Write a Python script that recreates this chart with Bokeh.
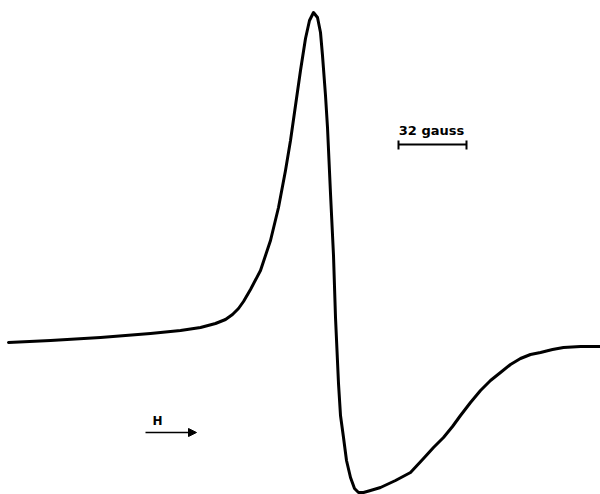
from bokeh.plotting import figure
from bokeh.models import Range1d, Arrow, NormalHead, Label
from bokeh.embed import file_html
from bokeh.resources import INLINE

# EPR derivative trace (horizontal position, vertical position from top)
field = [8, 50, 100, 150, 180, 200, 215, 225, 232, 238, 243, 250, 260, 270, 278, 285, 290,
         295, 300, 305, 309, 313, 317, 320, 322, 325, 327, 330, 333, 335, 338, 340, 343,
         346, 350, 354, 358, 363, 370, 380, 395, 410, 423, 433, 443, 452, 460, 470, 480,
         490, 500, 510, 520, 530, 540, 552, 563, 580, 600]
signal = [342, 340, 337, 333, 330, 327, 323, 319, 314, 308, 301, 289, 270, 240, 207, 170, 140,
          105, 70, 38, 20, 12, 17, 32, 55, 95, 127, 193, 255, 317, 383, 415, 437,
          460, 477, 488, 492, 492, 490, 487, 480, 472, 458, 447, 437, 426, 415, 402, 390,
          380, 372, 364, 358, 354, 352, 349, 347, 346, 346]

scale_label = "32 gauss"
field_label = "H"

p = figure(width=600, height=494, x_range=Range1d(0, 600), y_range=Range1d(494, 0),
           toolbar_location=None, output_backend="svg", min_border=0,
           x_axis_type=None, y_axis_type=None)
p.grid.visible = False
p.outline_line_color = None
p.background_fill_color = "white"
p.border_fill_color = "white"

p.line(field, signal, line_color="black", line_width=3, line_join="round", line_cap="round")

# scale bar
p.segment(x0=[398, 398, 466], y0=[144, 140, 140], x1=[466, 398, 466], y1=[144, 149, 149],
          line_color="black", line_width=2)
p.add_layout(Label(x=431, y=137, text=scale_label, text_align="center", text_baseline="bottom",
                   text_font="DejaVu Sans", text_font_style="bold", text_font_size="13px",
                   text_color="black"))

# field direction arrow
p.add_layout(Arrow(end=NormalHead(size=8, fill_color="black", line_color="black"),
                   x_start=145, y_start=432, x_end=196, y_end=432,
                   line_color="black", line_width=1.5))
p.add_layout(Label(x=157, y=427, text=field_label, text_align="center", text_baseline="bottom",
                   text_font="DejaVu Sans", text_font_style="bold", text_font_size="12px",
                   text_color="black"))

open("out.html", "w").write(file_html(p, INLINE))
